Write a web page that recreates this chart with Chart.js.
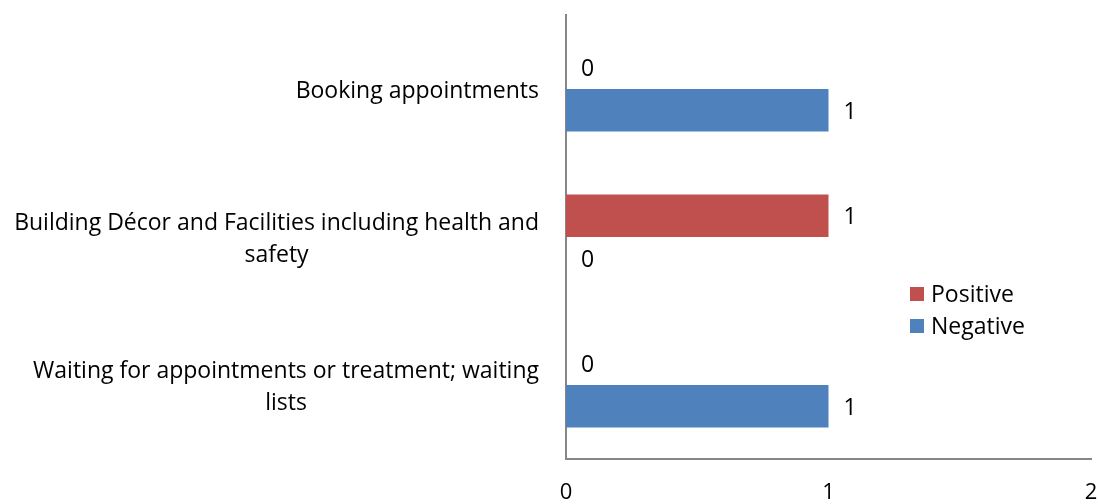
<!DOCTYPE html>
<html>
<head>
<meta charset="utf-8">
<script src="https://cdn.jsdelivr.net/npm/chart.js@4/dist/chart.umd.min.js"></script>
<style>
  body { margin: 0; background: #fff; }
  canvas { display: block; }
</style>
</head>
<body>
<canvas id="chart" width="1098" height="504"></canvas>
<script>
"use strict"
const categories = [
    ["Booking appointments"],
    ["Building Décor and Facilities including health and", "safety"],
    ["Waiting for appointments or treatment; waiting", "lists"]
];
const positive = [0, 1, 0];
const negative = [1, 0, 1];
const xTicks = [0, 1, 2];

const FONT = "Open Sans";
const SIZE = 23;
const AXIS = "#868686";

// category labels: right-aligned block, lines centered inside it
const catLabels = {
    id: "catLabels",
    afterDraw(chart) {
        const ctx = chart.ctx;
        const y = chart.scales.y;
        const right = chart.chartArea.left - 27;
        ctx.save();
        ctx.font = SIZE + "px " + FONT;
        ctx.fillStyle = "#000";
        ctx.textAlign = "center";
        ctx.textBaseline = "middle";
        chart.data.labels.forEach(function(lines, i) {
            let widest = 0;
            for (const l of lines) widest = Math.max(widest, ctx.measureText(l).width);
            const cx = right - widest / 2;
            const cy = y.getPixelForValue(i) + 2;
            const lh = 32;
            lines.forEach(function(l, k) {
                ctx.fillText(l, cx, cy + (k - (lines.length - 1) / 2) * lh);
            });
        });
        ctx.restore();
    }
};

// x tick labels under the axis
const xLabels = {
    id: "xLabels",
    afterDraw(chart) {
        const ctx = chart.ctx;
        const x = chart.scales.x;
        ctx.save();
        ctx.font = "22px " + FONT;
        ctx.fillStyle = "#000";
        ctx.textAlign = "center";
        ctx.textBaseline = "middle";
        for (const v of xTicks) {
            ctx.fillText(String(v), x.getPixelForValue(v), chart.chartArea.bottom + 34);
        }
        ctx.restore();
    }
};

// value labels next to each bar
const valueLabels = {
    id: "valueLabels",
    afterDatasetsDraw(chart) {
        const ctx = chart.ctx;
        ctx.save();
        ctx.font = SIZE + "px " + FONT;
        ctx.fillStyle = "#000";
        ctx.textAlign = "left";
        ctx.textBaseline = "middle";
        chart.data.datasets.forEach(function(ds, di) {
            const meta = chart.getDatasetMeta(di);
            meta.data.forEach(function(bar, i) {
                ctx.fillText(String(ds.data[i]), bar.x + 15, bar.y + 2);
            });
        });
        ctx.restore();
    }
};

// legend drawn inside the plot on the right
const sideLegend = {
    id: "sideLegend",
    afterDraw(chart) {
        const ctx = chart.ctx;
        const x0 = 910, y0 = 294, step = 32;
        ctx.save();
        ctx.font = SIZE + "px " + FONT;
        ctx.textAlign = "left";
        ctx.textBaseline = "middle";
        chart.data.datasets.forEach(function(ds, i) {
            const cy = y0 + i * step;
            ctx.fillStyle = ds.backgroundColor;
            ctx.fillRect(x0, cy - 7, 14, 14);
            ctx.fillStyle = "#000";
            ctx.fillText(ds.label, x0 + 21, cy + 1);
        });
        ctx.restore();
    }
};

new Chart(document.getElementById("chart"), {
    type: "bar",
    data: {
        labels: categories,
        datasets: [
            { label: "Positive", data: positive, backgroundColor: "#C0504D" },
            { label: "Negative", data: negative, backgroundColor: "#4F81BD" }
        ]
    },
    options: {
        indexAxis: "y",
        responsive: false,
        animation: false,
        layout: { padding: { left: 566, right: 7, top: 15, bottom: 0 } },
        datasets: { bar: { categoryPercentage: 0.575, barPercentage: 1 } },
        plugins: { legend: { display: false }, tooltip: { enabled: false } },
        scales: {
            x: {
                min: 0,
                max: 2,
                afterFit(scale) {
                    scale.height = 45;
                    scale.paddingLeft = 0;
                    scale.paddingRight = 0;
                },
                grid: { display: false, drawTicks: false },
                border: { display: true, color: AXIS, width: 2 },
                ticks: { display: false }
            },
            y: {
                grid: { display: false, drawTicks: false },
                border: { display: true, color: AXIS, width: 2 },
                ticks: { display: false }
            }
        }
    },
    plugins: [catLabels, xLabels, valueLabels, sideLegend]
});
</script>
</body>
</html>
